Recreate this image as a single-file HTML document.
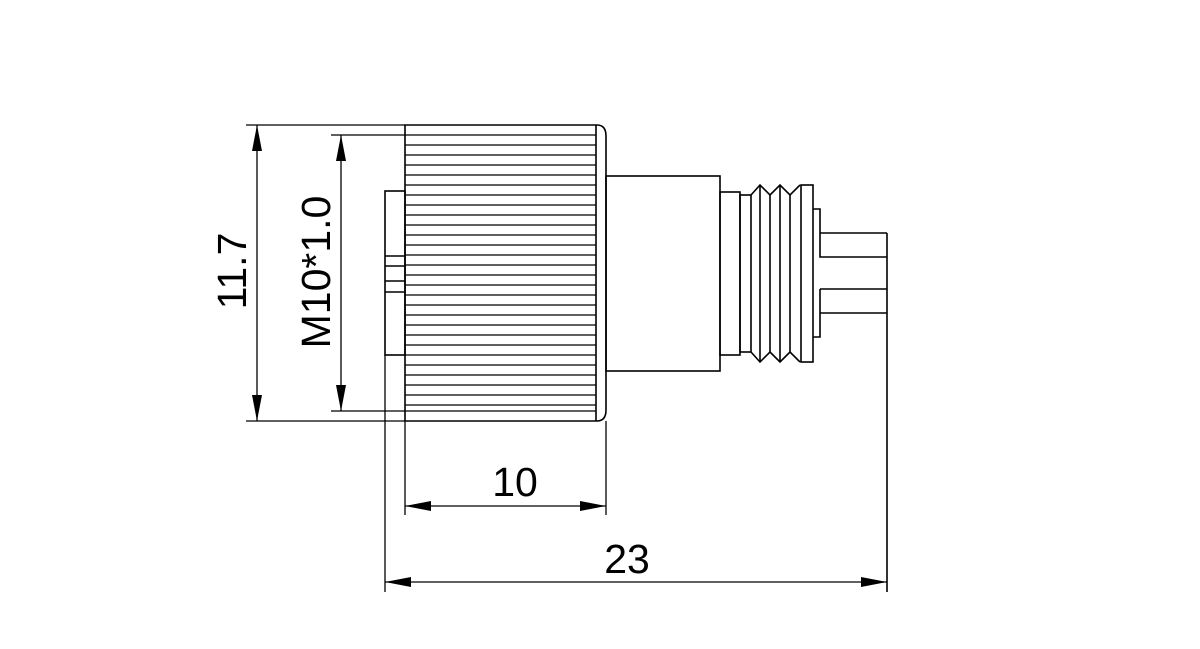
<!DOCTYPE html>
<html><head><style>html,body{margin:0;padding:0;background:#fff;width:1200px;height:649px;overflow:hidden}</style></head>
<body>
<svg width="1200" height="649" viewBox="0 0 1200 649" xmlns="http://www.w3.org/2000/svg">
<g stroke="#000" stroke-width="1.6" fill="none">
<path d="M405,125 H597 Q606,125 606,136 V410 Q606,421 597,421 H405 Z"/>
<line x1="596" y1="125" x2="596" y2="421"/>
<g stroke-width="1.3">
<line x1="405" y1="135" x2="596" y2="135"/><line x1="405" y1="145" x2="596" y2="145"/><line x1="405" y1="155" x2="596" y2="155"/><line x1="405" y1="165" x2="596" y2="165"/><line x1="405" y1="175" x2="596" y2="175"/><line x1="405" y1="185" x2="596" y2="185"/><line x1="405" y1="195" x2="596" y2="195"/><line x1="405" y1="205" x2="596" y2="205"/><line x1="405" y1="215" x2="596" y2="215"/><line x1="405" y1="225" x2="596" y2="225"/><line x1="405" y1="235" x2="596" y2="235"/><line x1="405" y1="245" x2="596" y2="245"/><line x1="405" y1="255" x2="596" y2="255"/><line x1="405" y1="265" x2="596" y2="265"/><line x1="405" y1="275" x2="596" y2="275"/><line x1="405" y1="285" x2="596" y2="285"/><line x1="405" y1="295" x2="596" y2="295"/><line x1="405" y1="305" x2="596" y2="305"/><line x1="405" y1="315" x2="596" y2="315"/><line x1="405" y1="325" x2="596" y2="325"/><line x1="405" y1="335" x2="596" y2="335"/><line x1="405" y1="345" x2="596" y2="345"/><line x1="405" y1="355" x2="596" y2="355"/><line x1="405" y1="365" x2="596" y2="365"/><line x1="405" y1="375" x2="596" y2="375"/><line x1="405" y1="385" x2="596" y2="385"/><line x1="405" y1="395" x2="596" y2="395"/><line x1="405" y1="405" x2="596" y2="405"/><line x1="405" y1="411" x2="596" y2="411"/>
</g>
<rect x="385" y="191" width="20" height="164"/>
<line x1="385" y1="256" x2="405" y2="256"/><line x1="385" y1="266" x2="405" y2="266"/>
<line x1="385" y1="281" x2="405" y2="281"/><line x1="385" y1="292" x2="405" y2="292"/>
<rect x="606" y="176" width="114" height="195"/>
<rect x="720" y="192" width="20" height="163"/>
<rect x="740" y="195" width="11" height="157"/>
<path d="M751,195 L760,185 L770,195 L780,185 L790,195 L800,185 M751,352 L760,362 L770,352 L780,362 L790,352 L800,362"/>
<line x1="760" y1="185" x2="760" y2="362"/><line x1="770" y1="195" x2="770" y2="352"/><line x1="780" y1="185" x2="780" y2="362"/><line x1="790" y1="195" x2="790" y2="352"/>
<rect x="801" y="185" width="12" height="177"/>
<path d="M813,209 H820 V233 H887 M820,233 V257 H887 M820,289 H887 M820,289 V313 H887 M813,337 H820 V313"/>
<line x1="887" y1="233" x2="887" y2="592"/>
<g stroke-width="1.3">
<line x1="246" y1="125" x2="405" y2="125"/><line x1="246" y1="421" x2="405" y2="421"/>
<line x1="331" y1="135" x2="405" y2="135"/><line x1="331" y1="411" x2="405" y2="411"/>
<line x1="405" y1="421" x2="405" y2="515"/><line x1="606" y1="421" x2="606" y2="515"/>
<line x1="385" y1="355" x2="385" y2="592"/>
<line x1="257" y1="125" x2="257" y2="421"/>
<line x1="341" y1="135" x2="341" y2="411"/>
<line x1="405" y1="506" x2="606" y2="506"/>
<line x1="385" y1="582" x2="887" y2="582"/>
</g>
</g>
<g fill="#000">
<path d="M257,125 L252,151 L262,151 Z"/><path d="M257,421 L252,395 L262,395 Z"/>
<path d="M341,135 L336,161 L346,161 Z"/><path d="M341,411 L336,385 L346,385 Z"/>
<path d="M405,506 L431,501 L431,511 Z"/><path d="M606,506 L580,501 L580,511 Z"/>
<path d="M385,582 L411,577 L411,587 Z"/><path d="M887,582 L861,577 L861,587 Z"/>
</g>
<g font-family="Liberation Sans, sans-serif" font-size="41" fill="#000" text-anchor="middle">
<text x="515" y="496">10</text>
<text x="627" y="573">23</text>
<text transform="translate(246,271) rotate(-90)">11.7</text>
<text transform="translate(330,272) rotate(-90)">M10*1.0</text>
</g>
</svg>
</body></html>
